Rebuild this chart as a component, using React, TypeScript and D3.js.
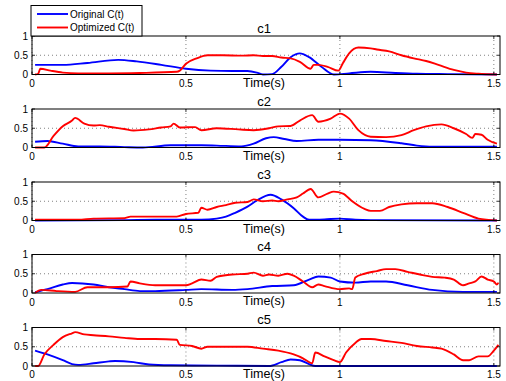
import React from "react";
import * as d3 from "d3";

type P = [number, number];

const panelTitles = ["c1", "c2", "c3", "c4", "c5"];
const xTicks = [0, 0.5, 1, 1.5];
const yTicks = [0, 0.5, 1];
const xTickLabels = ["0", "0.5", "1", "1.5"];
const yTickLabels = ["0", "0.5", "1"];
const legendLabels = ["Original C(t)", "Optimized C(t)"];

const orig1: P[] = [[0.01,0.25],[0.1,0.25],[0.18,0.3],[0.28,0.38],[0.34,0.34],[0.42,0.25],[0.5,0.15],[0.58,0.1],[0.65,0.09],[0.7,0.09],[0.73,0.05],[0.75,0.0],[0.78,0.01],[0.81,0.2],[0.84,0.45],[0.87,0.55],[0.9,0.45],[0.94,0.2],[0.98,0.0],[1.03,0.03],[1.1,0.07],[1.18,0.04],[1.25,0.02],[1.35,0.01],[1.51,0.0]];
const opt1: P[] = [[0.01,0.0],[0.02,0.02],[0.027,0.15],[0.06,0.1],[0.1,0.05],[0.15,0.03],[0.25,0.03],[0.35,0.04],[0.47,0.07],[0.48,0.1],[0.5,0.28],[0.535,0.42],[0.57,0.5],[0.62,0.5],[0.68,0.49],[0.72,0.5],[0.75,0.48],[0.78,0.48],[0.81,0.44],[0.84,0.42],[0.87,0.33],[0.905,0.15],[0.915,0.25],[0.93,0.25],[0.96,0.2],[0.995,0.1],[1.01,0.3],[1.03,0.55],[1.06,0.7],[1.1,0.68],[1.12,0.65],[1.16,0.6],[1.2,0.5],[1.24,0.42],[1.28,0.35],[1.32,0.25],[1.37,0.12],[1.41,0.05],[1.45,0.02],[1.51,0.0]];

const orig2: P[] = [[0.01,0.15],[0.05,0.17],[0.1,0.1],[0.15,0.03],[0.22,0.03],[0.3,0.01],[0.36,0.0],[0.45,0.06],[0.55,0.06],[0.6,0.05],[0.68,0.03],[0.72,0.1],[0.76,0.24],[0.785,0.27],[0.82,0.22],[0.86,0.17],[0.93,0.2],[1.0,0.2],[1.1,0.19],[1.2,0.11],[1.25,0.05],[1.3,0.02],[1.51,0.02]];
const opt2: P[] = [[0.01,0.0],[0.04,0.0],[0.07,0.3],[0.1,0.55],[0.13,0.7],[0.14,0.77],[0.17,0.62],[0.2,0.57],[0.22,0.58],[0.25,0.54],[0.3,0.48],[0.33,0.44],[0.38,0.47],[0.42,0.52],[0.45,0.55],[0.46,0.62],[0.48,0.52],[0.53,0.53],[0.55,0.45],[0.6,0.5],[0.67,0.47],[0.72,0.45],[0.77,0.5],[0.8,0.55],[0.84,0.56],[0.87,0.7],[0.91,0.84],[0.93,0.67],[0.97,0.75],[1.0,0.88],[1.03,0.75],[1.06,0.45],[1.1,0.28],[1.15,0.27],[1.2,0.32],[1.24,0.45],[1.28,0.55],[1.33,0.6],[1.37,0.5],[1.41,0.35],[1.43,0.25],[1.44,0.35],[1.46,0.33],[1.48,0.2],[1.51,0.1]];

const orig3: P[] = [[0.01,0.0],[0.3,0.01],[0.4,0.02],[0.5,0.02],[0.55,0.02],[0.6,0.05],[0.63,0.1],[0.66,0.2],[0.7,0.36],[0.73,0.52],[0.775,0.67],[0.81,0.55],[0.85,0.32],[0.88,0.1],[0.9,0.02],[0.95,0.03],[1.0,0.05],[1.05,0.02],[1.1,0.01],[1.51,0.0]];
const opt3: P[] = [[0.01,0.02],[0.15,0.02],[0.2,0.05],[0.3,0.06],[0.32,0.1],[0.4,0.1],[0.47,0.1],[0.5,0.17],[0.54,0.2],[0.55,0.33],[0.57,0.28],[0.6,0.35],[0.63,0.4],[0.66,0.46],[0.7,0.48],[0.72,0.55],[0.75,0.5],[0.78,0.52],[0.8,0.5],[0.83,0.55],[0.86,0.6],[0.88,0.7],[0.905,0.82],[0.93,0.6],[0.96,0.7],[0.98,0.75],[1.01,0.7],[1.04,0.5],[1.08,0.3],[1.1,0.25],[1.13,0.25],[1.16,0.35],[1.2,0.42],[1.25,0.45],[1.3,0.45],[1.35,0.35],[1.4,0.2],[1.45,0.05],[1.51,0.0]];

const orig4: P[] = [[0.01,0.02],[0.05,0.1],[0.1,0.22],[0.13,0.26],[0.2,0.22],[0.25,0.15],[0.3,0.1],[0.35,0.05],[0.4,0.05],[0.5,0.08],[0.55,0.1],[0.65,0.08],[0.7,0.1],[0.78,0.18],[0.85,0.2],[0.9,0.35],[0.93,0.43],[0.97,0.4],[1.0,0.3],[1.05,0.27],[1.1,0.3],[1.15,0.3],[1.22,0.2],[1.3,0.08],[1.4,0.03],[1.51,0.03]];
const opt4: P[] = [[0.01,0.0],[0.03,0.08],[0.08,0.05],[0.14,0.03],[0.18,0.15],[0.25,0.15],[0.31,0.17],[0.32,0.3],[0.35,0.25],[0.4,0.2],[0.45,0.2],[0.5,0.2],[0.52,0.25],[0.55,0.35],[0.58,0.32],[0.6,0.42],[0.65,0.48],[0.7,0.5],[0.72,0.53],[0.75,0.45],[0.77,0.48],[0.8,0.45],[0.83,0.5],[0.85,0.45],[0.88,0.3],[0.91,0.15],[0.93,0.22],[0.95,0.18],[1.0,0.1],[1.03,0.12],[1.04,0.1],[1.05,0.4],[1.08,0.5],[1.12,0.57],[1.15,0.62],[1.18,0.62],[1.22,0.55],[1.26,0.48],[1.3,0.42],[1.34,0.4],[1.37,0.35],[1.4,0.2],[1.42,0.25],[1.44,0.3],[1.46,0.43],[1.48,0.35],[1.5,0.3],[1.51,0.22],[1.515,0.27]];

const orig5: P[] = [[0.01,0.4],[0.05,0.3],[0.1,0.15],[0.13,0.05],[0.15,0.03],[0.2,0.07],[0.25,0.12],[0.27,0.13],[0.33,0.1],[0.38,0.04],[0.45,0.02],[0.6,0.01],[0.77,0.0],[0.81,0.1],[0.84,0.17],[0.87,0.15],[0.9,0.05],[0.92,0.0],[1.51,0.0]];
const opt5: P[] = [[0.01,0.0],[0.02,0.0],[0.04,0.3],[0.07,0.55],[0.1,0.75],[0.13,0.85],[0.14,0.88],[0.17,0.82],[0.2,0.8],[0.25,0.77],[0.3,0.73],[0.35,0.7],[0.4,0.7],[0.47,0.68],[0.48,0.55],[0.52,0.52],[0.55,0.45],[0.57,0.5],[0.65,0.5],[0.7,0.5],[0.75,0.45],[0.8,0.4],[0.85,0.3],[0.88,0.2],[0.9,0.1],[0.91,0.07],[0.92,0.35],[0.95,0.25],[0.98,0.15],[1.0,0.1],[1.02,0.35],[1.05,0.6],[1.07,0.7],[1.1,0.7],[1.15,0.65],[1.2,0.6],[1.25,0.52],[1.3,0.48],[1.33,0.45],[1.37,0.3],[1.4,0.15],[1.42,0.15],[1.45,0.25],[1.48,0.25],[1.5,0.4],[1.515,0.55]];

const originals = [orig1, orig2, orig3, orig4, orig5];
const optimized = [opt1, opt2, opt3, opt4, opt5];

const W = 506, H = 381;
const left = 32, right = 500;
const tops = [36, 109, 182, 254.5, 327.5];
const ph = 38.5;
const font = "Liberation Sans, Arial, Helvetica, sans-serif";

export default function App() {
  const x = d3.scaleLinear().domain([0, 1.52]).range([left, right]);
  return (
    <svg width={W} height={H} style={{ position: "absolute", left: 0, top: 0, background: "#fff" }}>
      <rect x={0} y={0} width={W} height={H} fill="#fff" />
      {panelTitles.map((title, i) => {
        const top = tops[i];
        const y = d3.scaleLinear().domain([0, 1]).range([top + ph, top]);
        const line = d3.line<P>().x((d) => x(d[0])).y((d) => y(d[1])).curve(d3.curveMonotoneX);
        const lab = Math.min(top + ph + 12.5, 378);
        return (
          <g key={title}>
            <rect x={left} y={top} width={right - left} height={ph} fill="#fff" />
            {xTicks.map((t) => (
              <line key={"gx" + t} x1={x(t)} x2={x(t)} y1={top} y2={top + ph} stroke="#000" strokeWidth={0.5} strokeDasharray="1,3" />
            ))}
            <line x1={left} x2={right} y1={y(0.5)} y2={y(0.5)} stroke="#000" strokeWidth={0.5} strokeDasharray="1,3" />
            <path d={line(originals[i]) || ""} fill="none" stroke="#0000ff" strokeWidth={1.9} />
            <path d={line(optimized[i]) || ""} fill="none" stroke="#ff0000" strokeWidth={1.9} />
            <rect x={left} y={top} width={right - left} height={ph} fill="none" stroke="#000" strokeWidth={1} />
            {xTicks.map((t, k) => (
              <g key={"tx" + t}>
                <line x1={x(t)} x2={x(t)} y1={top + ph} y2={top + ph - 3} stroke="#000" strokeWidth={0.8} />
                <line x1={x(t)} x2={x(t)} y1={top} y2={top + 3} stroke="#000" strokeWidth={0.8} />
                <text x={x(t)} y={lab} fontSize={10} fontFamily={font} textAnchor="middle">{xTickLabels[k]}</text>
              </g>
            ))}
            {yTicks.map((t, k) => (
              <g key={"ty" + t}>
                <line x1={left} x2={left + 3} y1={y(t)} y2={y(t)} stroke="#000" strokeWidth={0.8} />
                <line x1={right} x2={right - 3} y1={y(t)} y2={y(t)} stroke="#000" strokeWidth={0.8} />
                <text x={left - 4} y={y(t) + 3.5} fontSize={10} fontFamily={font} textAnchor="end">{yTickLabels[k]}</text>
              </g>
            ))}
            <text x={264} y={lab - 0.5} fontSize={12.5} fontFamily={font} textAnchor="middle">Time(s)</text>
            <text x={264} y={top - 3.5} fontSize={13} fontFamily={font} textAnchor="middle">{title}</text>
          </g>
        );
      })}
      <g>
        <rect x={31} y={5.5} width={111} height={30.5} fill="#fff" stroke="#000" strokeWidth={1} />
        {legendLabels.map((lab, k) => (
          <g key={lab}>
            <line x1={37} x2={68} y1={14 + k * 13.5} y2={14 + k * 13.5} stroke={k === 0 ? "#0000ff" : "#ff0000"} strokeWidth={1.9} />
            <text x={70} y={17.5 + k * 13.5} fontSize={10} fontFamily={font}>{lab}</text>
          </g>
        ))}
      </g>
    </svg>
  );
}
